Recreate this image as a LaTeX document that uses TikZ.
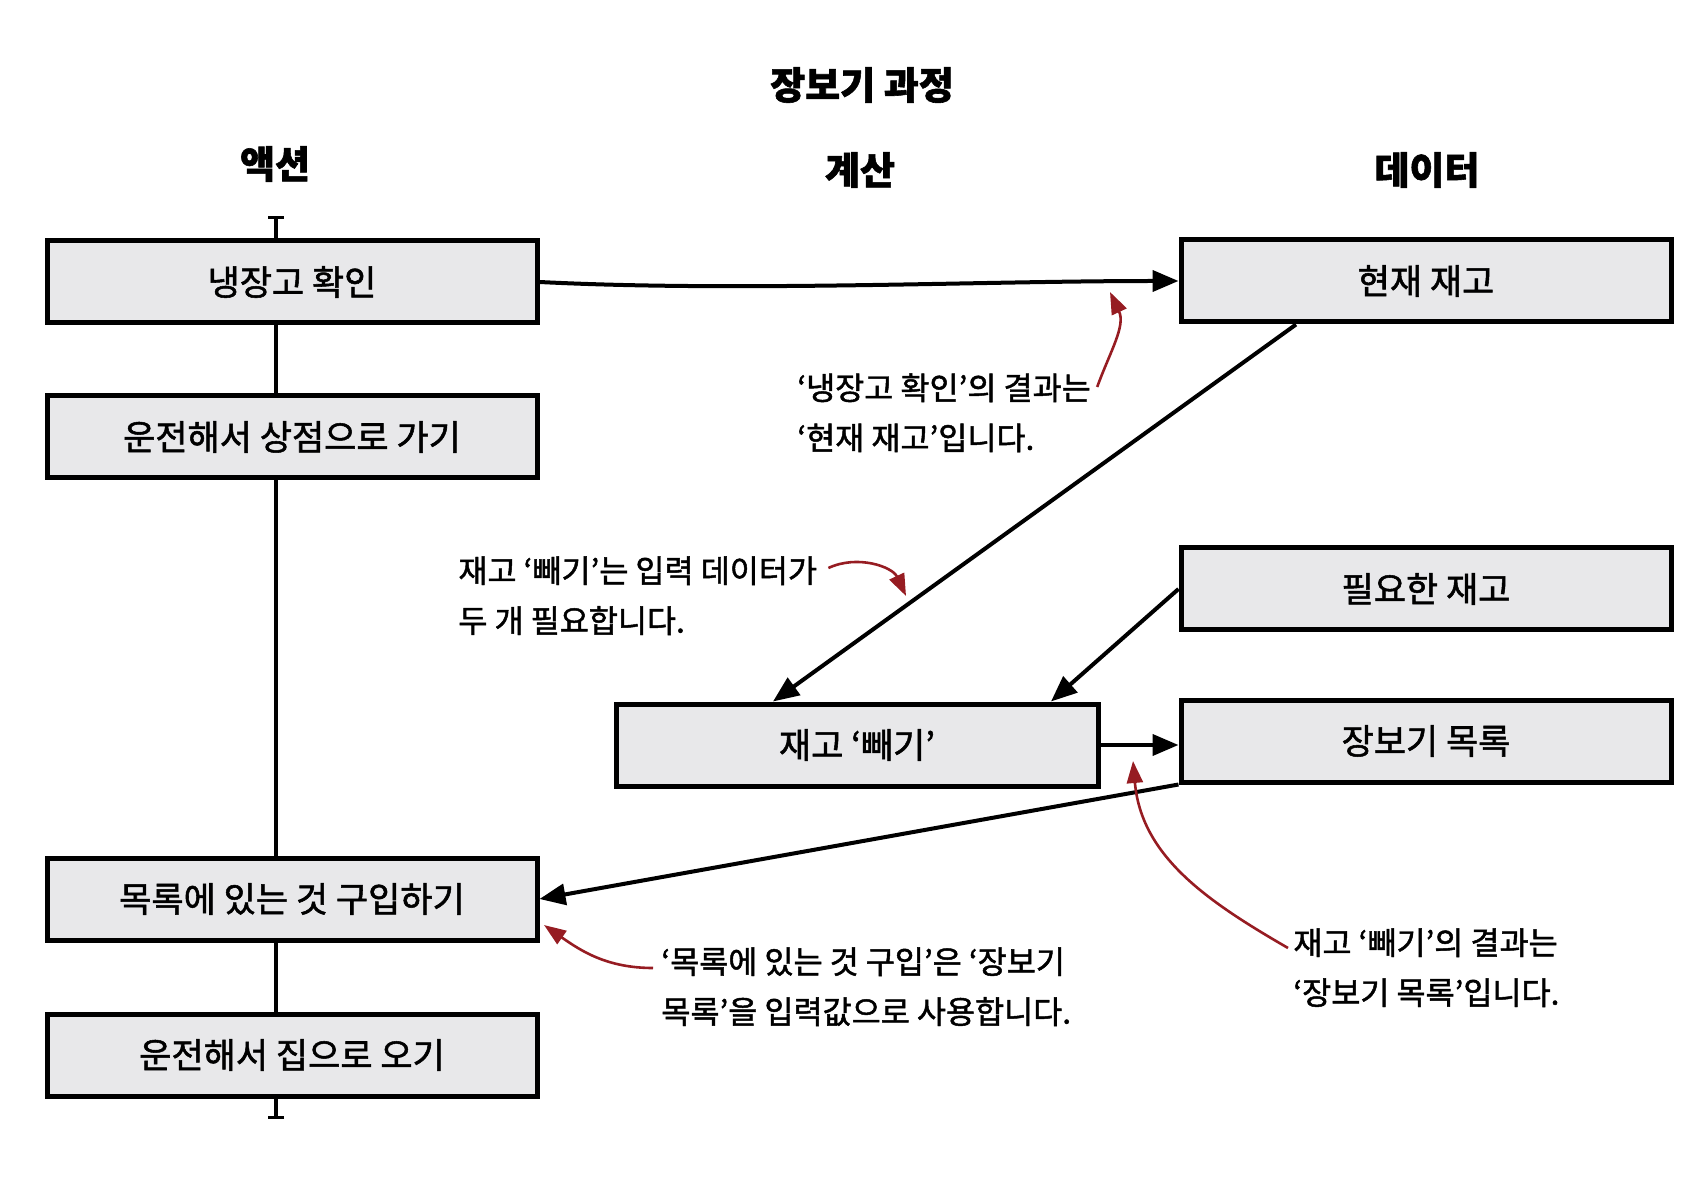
\documentclass[tikz,border=0pt]{standalone}
\usepackage{fontspec}
\setmainfont{Noto Sans CJK KR}[FakeBold=1.5]
\usetikzlibrary{arrows.meta, calc}
\definecolor{boxgray}{RGB}{232,232,234}
\definecolor{notered}{RGB}{150,28,34}

\begin{document}
\begin{tikzpicture}[x=0.5pt, y=0.5pt,
  box/.style={draw, line width=2.5pt, fill=boxgray, minimum width=245pt, minimum height=41pt, font=\fontsize{17.5}{20}\selectfont},
  head/.style={font=\fontsize{19}{22}\selectfont\bfseries},
  note/.style={anchor=north west, align=left, inner sep=0pt, font=\fontsize{15.8}{25}\selectfont},
  flow/.style={-{Triangle[length=13pt, width=10.5pt]}, line width=2pt},
  hint/.style={-{Triangle[length=11pt, width=8pt]}, line width=1.3pt, draw=notered}]
  \useasboundingbox (0,0) rectangle (1708,1185);
  % Titles
  \node[head] (title) at (862,1100) {장보기 과정};
  \node[head] (hAct) at (275,1021) {액션};
  \node[head] (hCalc) at (860,1015) {계산};
  \node[head] (hData) at (1427,1015) {데이터};
  % Timeline
  \coordinate (t0) at (276,969);
  \coordinate (t1) at (276,66);
  \draw[{Bar[width=8pt]}-{Bar[width=8pt]}, line width=1.6pt] (t0) -- (t1);
  % Actions
  \node[box] (chk) at (292,903) {냉장고 확인};
  \node[box] (go) at (292,748) {운전해서 상점으로 가기};
  \node[box] (buy) at (292,286) {목록에 있는 것 구입하기};
  \node[box] (back) at (292,130) {운전해서 집으로 오기};
  % Calculation
  \node[box, minimum width=241pt] (sub) at (857,440) {재고 ‘빼기’};
  % Data
  \node[box] (cur) at (1426,904) {현재 재고};
  \node[box] (need) at (1426,596) {필요한 재고};
  \node[box] (list) at (1426,444) {장보기 목록};
  % Arrows
  \draw[flow] (chk.east) .. controls +(200,-10) and +(-200,0) .. (cur.west);
  \draw[flow] ([xshift=-65pt]cur.south) -- ([xshift=-42pt]sub.north);
  \draw[flow] (need.west) -- ([xshift=97pt]sub.north);
  \draw[flow] (sub.east) -- (sub.east -| list.west);
  \draw[flow] (list.south west) -- (buy.east);
  % Notes
  \node[note] (n1) at (797,812) {‘냉장고 확인’의 결과는\\‘현재 재고’입니다.};
  \node[note] (n2) at (458,629) {재고 ‘빼기’는 입력 데이터가\\두 개 필요합니다.};
  \node[note] (n3) at (661,238) {‘목록에 있는 것 구입’은 ‘장보기\\목록’을 입력값으로 사용합니다.};
  \node[note] (n4) at (1293,257) {재고 ‘빼기’의 결과는\\‘장보기 목록’입니다.};
  \coordinate (p1) at (1110,893);
  \coordinate (p2) at (906,589);
  \coordinate (p3) at (544,260);
  \coordinate (p4) at (1133,424);
  \draw[hint] ($(n1.north east)+(6,-14)$) to[out=70, in=-65] (p1);
  \draw[hint] ($(n2.north east)+(11,-12)$) to[out=25, in=115] (p2);
  \draw[hint] ($(n3.north west)+(-8,-21)$) to[out=180, in=-35] (p3);
  \draw[hint] ($(n4.north west)+(-5,-20)$) to[out=150, in=-85] (p4);
\end{tikzpicture}
\end{document}
